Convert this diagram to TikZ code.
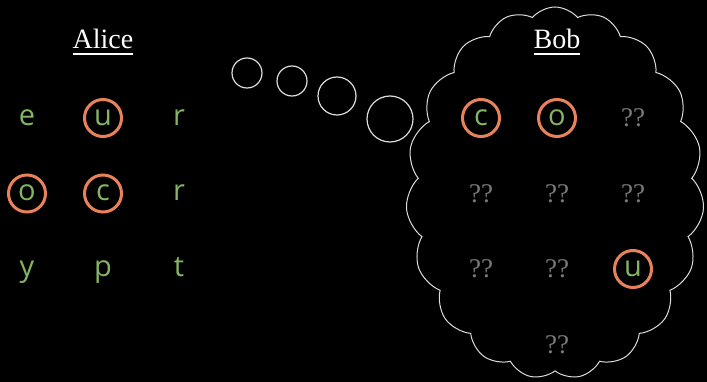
\documentclass[tikz,border=0pt]{standalone}
\usepackage{fontspec}
\setmainfont{Liberation Serif}
\newfontfamily\lettersans{Open Sans}
\usetikzlibrary{positioning, shapes.symbols}

\definecolor{pickorange}{HTML}{E8825A}
\definecolor{lettergreen}{HTML}{86B562}
\definecolor{unknowngray}{HTML}{7A7A7A}
\definecolor{linegray}{HTML}{DDDDDD}

\newcommand{\ulined}[1]{\vtop{\hbox{#1}\kern4pt\hrule height 1.8pt}}

\tikzset{
  letter/.style={text=lettergreen, font=\lettersans\fontsize{29}{32}\selectfont,
    text height=15pt, text depth=0pt, inner sep=0pt},
  picked/.style={letter, circle, draw=pickorange, line width=3pt, minimum size=37pt},
  unknown/.style={text=unknowngray, font=\fontsize{27}{30}\selectfont},
  heading/.style={text=white, font=\fontsize{28}{32}\selectfont, anchor=base, inner sep=0pt},
  bubble/.style={circle, draw=linegray, line width=1.2pt, inner sep=0pt},
}

\begin{document}
\begin{tikzpicture}[x=1pt, y=-1pt, on grid, node distance=75.5pt and 76pt]
\fill[black] (0,0) rectangle (707,382);
\useasboundingbox (0,0) rectangle (707,382);

% Bob's thought cloud
\node[cloud, draw=linegray, line width=1pt, fill=black, cloud puffs=19,
  cloud puff arc=100, aspect=0.8, minimum width=298pt, minimum height=372pt]
  (bobcloud) at (555,193) {};

% thought bubbles
\node[bubble, minimum size=30pt] (b1) at (247,73) {};
\node[bubble, minimum size=30pt] (b2) at (292,81) {};
\node[bubble, minimum size=38pt] (b3) at (337,96) {};
\node[bubble, minimum size=46pt] (b4) at (390,119) {};

% Alice
\node[heading] (alice) at (103,49) {\ulined{Alice}};
\node[letter] (a11) at (27,118) {e};
\node[picked] (a12) [right=of a11] {u};
\node[letter] (a13) [right=of a12] {r};
\node[picked] (a21) [below=of a11] {o};
\node[picked] (a22) [right=of a21] {c};
\node[letter] (a23) [right=of a22] {r};
\node[letter] (a31) [below=of a21] {y};
\node[letter] (a32) [right=of a31] {p};
\node[letter] (a33) [right=of a32] {t};

% Bob
\node[heading] (bob) at (557,49) {\ulined{Bob}};
\node[picked] (b11) at (481,118) {c};
\node[picked] (b12) [right=of b11] {o};
\node[unknown] (b13) [right=of b12] {??};
\node[unknown] (b21) [below=of b11] {??};
\node[unknown] (b22) [right=of b21] {??};
\node[unknown] (b23) [right=of b22] {??};
\node[unknown] (b31) [below=of b21] {??};
\node[unknown] (b32) [right=of b31] {??};
\node[picked] (b33) [right=of b32] {u};
\node[unknown] (b42) [below=of b32] {??};

\end{tikzpicture}
\end{document}
